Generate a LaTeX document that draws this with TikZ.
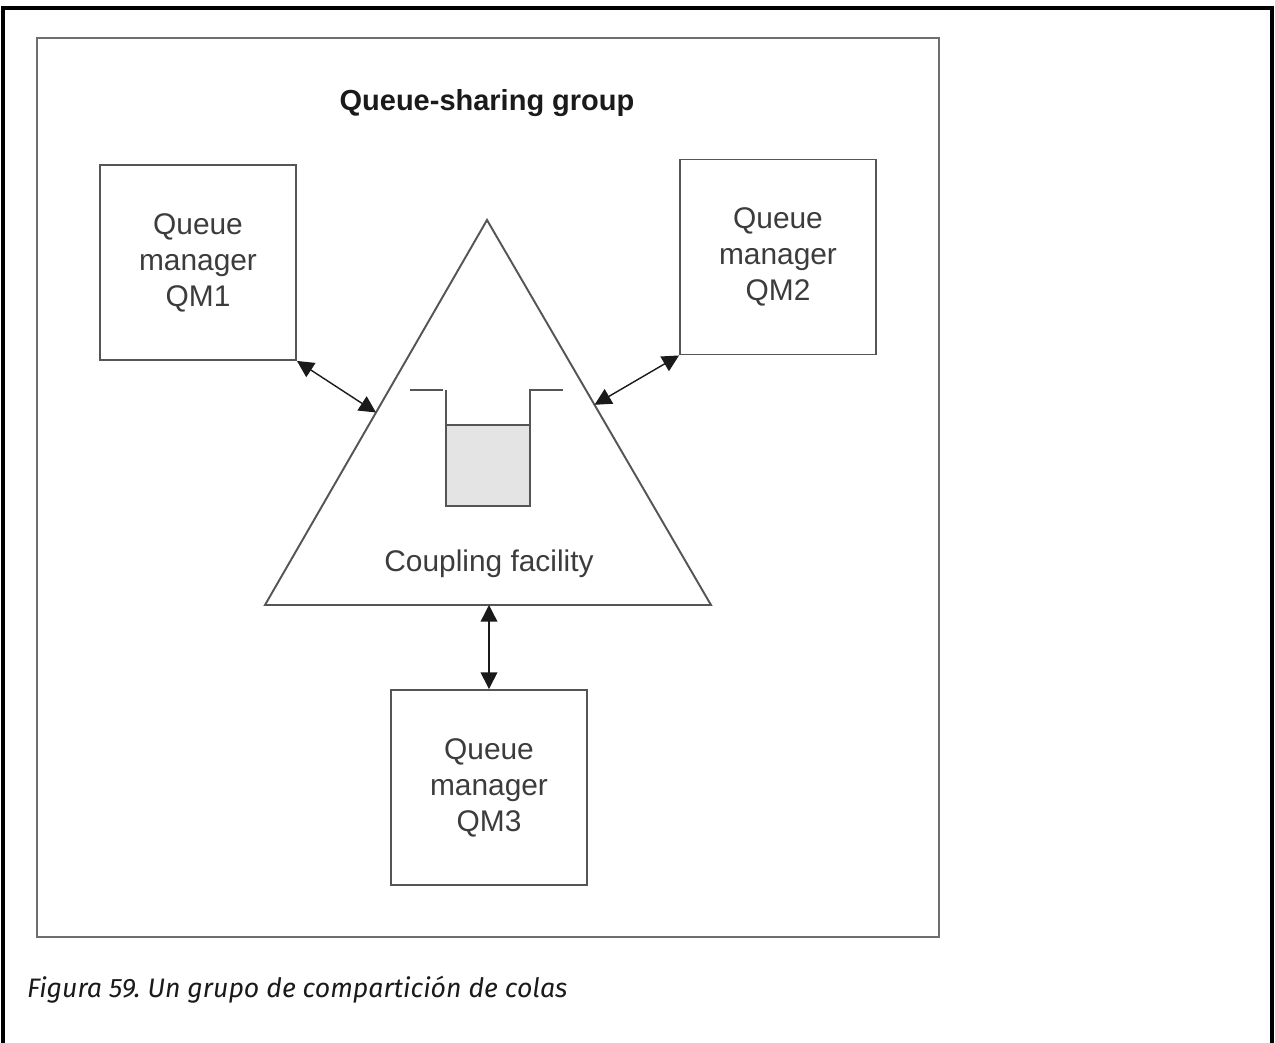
\documentclass[tikz,border=0pt]{standalone}
\usepackage{fontspec}
\setmainfont{Liberation Sans}
\newfontfamily\capfont{Fira Sans}
\usetikzlibrary{arrows.meta,positioning,calc}
\definecolor{QsgInk}{HTML}{1A1A1A}
\definecolor{QsgLine}{HTML}{555555}
\definecolor{QsgFrame}{HTML}{6E6E6E}
\definecolor{QsgFill}{HTML}{E4E4E4}
\tikzset{
  qmlabel/.style={font=\fontsize{17}{20.5}\selectfont, text=QsgInk!85},
  qmtitle/.style={font=\fontsize{16.5}{20}\selectfont\bfseries, text=QsgInk},
  qmcaption/.style={font=\capfont\itshape\frenchspacing\fontsize{15.2}{19}\selectfont, text=QsgInk},
  qmbox/.style={draw=QsgLine, line width=1.1pt, inner sep=0pt, minimum width=3.92cm, minimum height=3.9cm},
  qmgroup/.style={draw=QsgFrame, line width=1.2pt},
  qmframe/.style={draw=black, line width=1.8pt},
  qmduplex/.style={{Triangle[length=9.5pt,width=9.5pt]}-{Triangle[length=9.5pt,width=9.5pt]}, line width=0.8pt, draw=QsgInk}
}
\begin{document}
\begin{tikzpicture}[x=0.02cm, y=-0.02cm, every node/.style={qmlabel, align=center}]
\useasboundingbox (0,0) rectangle (1275,1043);
% page frame and group
\draw[qmframe] (3,1043) -- (3,8) -- (1272,8) -- (1272,1043);
\draw[qmgroup] (37,38) rectangle (939,937);
\node[qmtitle] (title) at (487,103) {Queue-sharing group};
% coupling facility
\coordinate (cfapex) at (487,220);
\coordinate (cfleftbase) at (265,605);
\coordinate (cfrightbase) at (711,605);
\draw[draw=QsgLine, line width=1.1pt] (cfleftbase) -- (cfapex) -- (cfrightbase) -- cycle;
\coordinate (cfleft) at ($(cfleftbase)!0.5!(cfapex)$);
\coordinate (cfright) at ($(cfrightbase)!0.52!(cfapex)$);
\coordinate (cfbase) at (489,605);
\fill[QsgFill] (446,425) rectangle (530,506);
\draw[draw=QsgLine, line width=1.1pt] (410,390) -- (443,390) (446,390) -- (446,506) -- (530,506) -- (530,390) -- (563,390);
\draw[draw=QsgLine, line width=1.1pt] (446,425) -- (530,425);
\node (cflabel) at (489,564) {Coupling facility};
% queue managers
\node[qmbox] (qm1) at (198,262.5) {Queue\\manager\\QM1};
\node[qmbox] (qm2) at (778,257) {Queue\\manager\\QM2};
\node[qmbox] (qm3) at (489,787.5) {Queue\\manager\\QM3};
\draw[qmduplex] (qm1.south east) -- (cfleft);
\draw[qmduplex] (qm2.south west) -- (cfright);
\draw[qmduplex] (qm3.north) -- (cfbase);
\node[qmcaption, anchor=base west] (caption) at (21,997) {Figura 59. Un grupo de compartición de colas};
\end{tikzpicture}
\end{document}
